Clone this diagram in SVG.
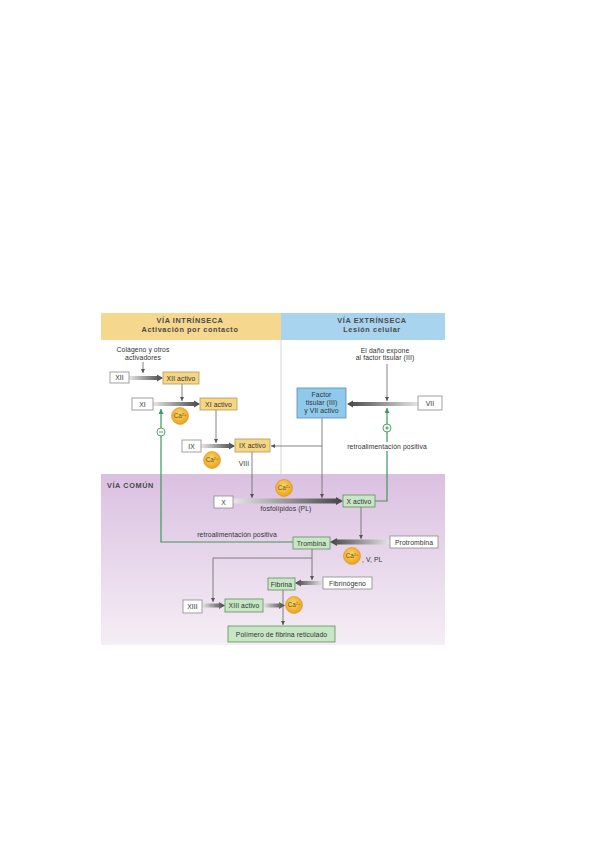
<svg xmlns="http://www.w3.org/2000/svg" width="600" height="848" viewBox="0 0 600 848">
<defs>
<style>
.t{font-family:"Liberation Sans",Arial,sans-serif;font-size:6.8px;letter-spacing:0.1px;fill:#333;text-anchor:middle}
.h{font-family:"Liberation Sans",Arial,sans-serif;font-weight:bold;font-size:7.3px;letter-spacing:0.6px;fill:#4a4a4a;text-anchor:middle}
.bw{fill:#fff;stroke:#8a8a8a;stroke-width:0.8}
.by{fill:#f6d685;stroke:#b59a55;stroke-width:0.8}
.bg{fill:#c6e6c4;stroke:#5f8f5f;stroke-width:0.8}
.bb{fill:#8fcaec;stroke:#5a8db0;stroke-width:0.8}
.ln{stroke:#666;stroke-width:0.8;fill:none;marker-end:url(#ah)}
.gl{stroke:#3a9a5a;stroke-width:1.2;fill:none;marker-end:url(#gh)}
.ca{font-family:"Liberation Sans",Arial,sans-serif;font-size:6.3px;fill:#6a5030;text-anchor:middle}
.fb{fill:#fff;stroke:#3a9a5a;stroke-width:0.9}
</style>
<linearGradient id="gR" x1="0" y1="0" x2="1" y2="0"><stop offset="0" stop-color="#e6e6e6"/><stop offset="1" stop-color="#444"/></linearGradient>
<linearGradient id="gL" x1="1" y1="0" x2="0" y2="0"><stop offset="0" stop-color="#e6e6e6"/><stop offset="1" stop-color="#444"/></linearGradient>
<linearGradient id="pur" x1="0" y1="0" x2="0" y2="1"><stop offset="0" stop-color="#dac0e1"/><stop offset="1" stop-color="#f5eef5"/></linearGradient>
<radialGradient id="caG" cx="0.45" cy="0.4" r="0.6"><stop offset="0" stop-color="#ffd865"/><stop offset="1" stop-color="#e9a21c"/></radialGradient>
<marker id="ah" viewBox="0 0 6 6" refX="6" refY="3" markerWidth="4" markerHeight="4" markerUnits="userSpaceOnUse" orient="auto"><path d="M0,0 L6,3 L0,6 Z" fill="#555"/></marker>
<marker id="gh" viewBox="0 0 6 6" refX="6" refY="3" markerWidth="5" markerHeight="5" markerUnits="userSpaceOnUse" orient="auto"><path d="M0,0 L6,3 L0,6 Z" fill="#3a9a5a"/></marker>
</defs>

<g id="background">
<rect x="101" y="340" width="344" height="134" fill="#fff"/>
<rect x="101" y="474" width="344" height="171" fill="url(#pur)"/>
<rect x="101" y="313" width="180" height="27" fill="#f6d78e"/>
<rect x="281" y="313" width="164" height="27" fill="#a8d4ef"/>
<line x1="281" y1="340" x2="281" y2="474" stroke="#bbb" stroke-width="0.6"/>
<text class="h" x="190" y="322.5">VÍA INTRÍNSECA</text>
<text class="h" x="190" y="331.5">Activación por contacto</text>
<text class="h" x="372" y="322.5">VÍA EXTRÍNSECA</text>
<text class="h" x="372" y="331.5">Lesión celular</text>
<text class="h" x="107" y="487.5" style="text-anchor:start">VÍA COMÚN</text>
</g>

<g id="connectors">
<path d="M129 376 L157 376 L157 374.5 L163 378 L157 381.5 L157 380 L129 380 Z" fill="url(#gR)"/>
<path d="M153 402 L194 402 L194 400.5 L200 404 L194 407.5 L194 406 L153 406 Z" fill="url(#gR)"/>
<path d="M201 444 L229 444 L229 442.5 L235 446 L229 449.5 L229 448 L201 448 Z" fill="url(#gR)"/>
<path d="M233 498.5 L336 498.5 L336 497 L343 501 L336 505 L336 503.5 L233 503.5 Z" fill="url(#gR)"/>
<path d="M418 402 L353 402 L353 400.5 L347 404 L353 407.5 L353 406 L418 406 Z" fill="url(#gL)"/>
<path d="M390 539.5 L337 539.5 L337 538 L330 542 L337 546 L337 544.5 L390 544.5 Z" fill="url(#gL)"/>
<path d="M323 581 L301 581 L301 579.5 L295 583 L301 586.5 L301 585 L323 585 Z" fill="url(#gL)"/>
<path d="M202 603.5 L219 603.5 L219 602 L225 605.5 L219 609 L219 607.5 L202 607.5 Z" fill="url(#gR)"/>
<path d="M263 603.5 L279 603.5 L279 602 L285 605.5 L279 609 L279 607.5 L263 607.5 Z" fill="url(#gR)"/>
<path class="ln" d="M143 362 V373"/>
<path class="ln" d="M182 384 V401"/>
<path class="ln" d="M216 410 V443"/>
<path class="ln" d="M387 364 V401"/>
<path class="ln" d="M322 418 V498"/>
<path class="ln" d="M322 446 H271"/>
<path class="ln" d="M252 452 V498"/>
<path class="ln" d="M361 507 V539"/>
<path class="ln" d="M312 549 V580"/>
<path class="ln" d="M312 558 H213 V602"/>
<path class="ln" d="M283 590 V625"/>
<path class="gl" d="M293 542 H161 V409"/>
<path class="gl" d="M375 501 H387 V408"/>
<circle class="fb" cx="161" cy="432" r="4"/>
<line x1="159" y1="432" x2="163" y2="432" stroke="#3a9a5a" stroke-width="0.9"/>
<circle class="fb" cx="387" cy="428" r="4"/>
<path d="M385 428 H389 M387 426 V430" stroke="#3a9a5a" stroke-width="0.9"/>
<rect x="342" y="442" width="90" height="9" fill="#fff"/>
<text class="t" x="387" y="449">retroalimentación positiva</text>
<text class="t" x="237" y="537">retroalimentación positiva</text>
<text class="t" x="143" y="352">Colágeno y otros</text>
<text class="t" x="143" y="359.5">activadores</text>
<text class="t" x="385" y="352.5">El daño expone</text>
<text class="t" x="385" y="360">al factor tisular (III)</text>
<text class="t" x="244" y="466">VIII</text>
<text class="t" x="286" y="511">fosfolípidos (PL)</text>
<text class="t" x="362" y="561.5" style="text-anchor:start">, V, PL</text>
</g>

<g id="n-xii"><rect class="bw" x="110" y="372" width="19" height="11"/><text class="t" x="119.5" y="380.3">XII</text></g>
<g id="n-xii-activo"><rect class="by" x="163" y="372" width="36" height="12"/><text class="t" x="181" y="380.5">XII activo</text></g>
<g id="n-xi"><rect class="bw" x="132" y="398" width="21" height="12"/><text class="t" x="142.5" y="406.5">XI</text></g>
<g id="n-xi-activo"><rect class="by" x="200" y="398" width="37" height="12"/><text class="t" x="218.5" y="406.5">XI activo</text></g>
<g id="n-ix"><rect class="bw" x="182" y="440" width="19" height="12"/><text class="t" x="191.5" y="448.5">IX</text></g>
<g id="n-ix-activo"><rect class="by" x="235" y="439" width="35" height="13"/><text class="t" x="252.5" y="448">IX activo</text></g>
<g id="n-factor"><rect class="bb" x="297" y="388" width="49" height="30"/><text class="t" x="321.5" y="396.5">Factor</text><text class="t" x="321.5" y="404.5">tisular (III)</text><text class="t" x="321.5" y="412.5">y VII activo</text></g>
<g id="n-vii"><rect class="bw" x="418" y="396" width="24" height="14"/><text class="t" x="430" y="405.5">VII</text></g>
<g id="n-x"><rect class="bw" x="214" y="496" width="19" height="12"/><text class="t" x="223.5" y="504.5">X</text></g>
<g id="n-x-activo"><rect class="bg" x="343" y="495" width="32" height="12"/><text class="t" x="359" y="503.5">X activo</text></g>
<g id="n-trombina"><rect class="bg" x="293" y="537" width="37" height="12"/><text class="t" x="311.5" y="545.5">Trombina</text></g>
<g id="n-protrombina"><rect class="bw" x="390" y="536" width="48" height="12"/><text class="t" x="414" y="544.5">Protrombina</text></g>
<g id="n-fibrina"><rect class="bg" x="268" y="578" width="27" height="12"/><text class="t" x="281.5" y="586.5">Fibrina</text></g>
<g id="n-fibrinogeno"><rect class="bw" x="323" y="577" width="49" height="12"/><text class="t" x="347.5" y="585.5">Fibrinógeno</text></g>
<g id="n-xiii"><rect class="bw" x="183" y="600" width="19" height="13"/><text class="t" x="192.5" y="609">XIII</text></g>
<g id="n-xiii-activo"><rect class="bg" x="225" y="599" width="38" height="13"/><text class="t" x="244" y="608">XIII activo</text></g>
<g id="n-polimero"><rect class="bg" x="228" y="626" width="107" height="16"/><text class="t" x="281.5" y="636.5">Polímero de fibrina reticulado</text></g>

<g id="ca1"><circle cx="180" cy="416" r="8.5" fill="url(#caG)" stroke="#d08a10" stroke-width="0.5"/><text class="ca" x="180" y="418.2">Ca<tspan dy="-2.2" font-size="4">2+</tspan></text></g>
<g id="ca2"><circle cx="212" cy="460" r="8.5" fill="url(#caG)" stroke="#d08a10" stroke-width="0.5"/><text class="ca" x="212" y="462.2">Ca<tspan dy="-2.2" font-size="4">2+</tspan></text></g>
<g id="ca3"><circle cx="284" cy="488" r="8.5" fill="url(#caG)" stroke="#d08a10" stroke-width="0.5"/><text class="ca" x="284" y="490.2">Ca<tspan dy="-2.2" font-size="4">2+</tspan></text></g>
<g id="ca4"><circle cx="352" cy="556" r="8.5" fill="url(#caG)" stroke="#d08a10" stroke-width="0.5"/><text class="ca" x="352" y="558.2">Ca<tspan dy="-2.2" font-size="4">2+</tspan></text></g>
<g id="ca5"><circle cx="294" cy="605" r="8.5" fill="url(#caG)" stroke="#d08a10" stroke-width="0.5"/><text class="ca" x="294" y="607.2">Ca<tspan dy="-2.2" font-size="4">2+</tspan></text></g>
</svg>
